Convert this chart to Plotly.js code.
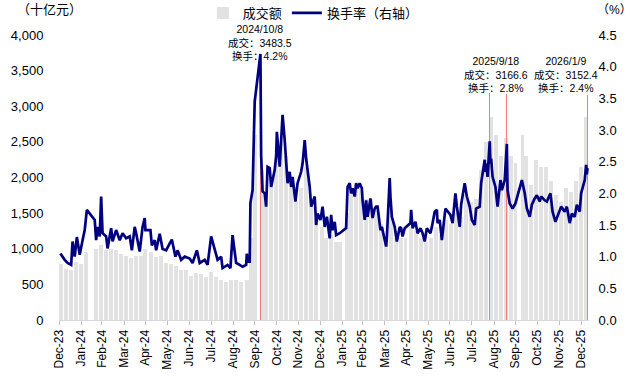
<!DOCTYPE html>
<html>
<head>
<meta charset="utf-8">
<script src="https://cdn.plot.ly/plotly-3.0.1.min.js"></script>
<style>html,body{margin:0;padding:0;background:#fff;}#chart{width:632px;height:382px;}</style>
</head>
<body>
<div id="chart"></div>
<script>
const lineDates = ['2024-01-02','2024-01-03','2024-01-08','2024-01-12','2024-01-17','2024-01-19','2024-01-22','2024-01-25','2024-01-29','2024-02-02','2024-02-05','2024-02-08','2024-02-19','2024-02-21','2024-02-23','2024-02-26','2024-02-28','2024-03-01','2024-03-06','2024-03-08','2024-03-13','2024-03-15','2024-03-20','2024-03-25','2024-03-29','2024-04-03','2024-04-08','2024-04-11','2024-04-15','2024-04-17','2024-04-22','2024-04-26','2024-04-29','2024-04-30','2024-05-07','2024-05-09','2024-05-13','2024-05-15','2024-05-20','2024-05-24','2024-05-29','2024-06-03','2024-06-06','2024-06-11','2024-06-14','2024-06-19','2024-06-24','2024-07-01','2024-07-05','2024-07-11','2024-07-15','2024-07-22','2024-07-26','2024-07-31','2024-08-05','2024-08-09','2024-08-14','2024-08-16','2024-08-23','2024-08-27','2024-08-30','2024-09-04','2024-09-09','2024-09-13','2024-09-18','2024-09-19','2024-09-20','2024-09-23','2024-09-24','2024-09-25','2024-09-26','2024-09-27','2024-09-30','2024-10-08','2024-10-09','2024-10-10','2024-10-11','2024-10-14','2024-10-16','2024-10-18','2024-10-21','2024-10-23','2024-10-28','2024-10-30','2024-10-31','2024-11-04','2024-11-08','2024-11-11','2024-11-15','2024-11-18','2024-11-20','2024-11-22','2024-11-26','2024-11-29','2024-12-04','2024-12-06','2024-12-09','2024-12-11','2024-12-16','2024-12-18','2024-12-23','2024-12-25','2024-12-27','2024-12-31','2025-01-03','2025-01-06','2025-01-09','2025-01-13','2025-01-15','2025-01-17','2025-01-20','2025-01-22','2025-01-27','2025-02-05','2025-02-07','2025-02-10','2025-02-12','2025-02-14','2025-02-17','2025-02-19','2025-02-21','2025-02-24','2025-02-27','2025-02-28','2025-03-03','2025-03-05','2025-03-07','2025-03-11','2025-03-14','2025-03-17','2025-03-19','2025-03-21','2025-03-25','2025-03-27','2025-04-02','2025-04-03','2025-04-07','2025-04-08','2025-04-10','2025-04-14','2025-04-17','2025-04-21','2025-04-23','2025-04-25','2025-04-28','2025-05-06','2025-05-07','2025-05-09','2025-05-13','2025-05-16','2025-05-20','2025-05-23','2025-05-26','2025-05-29','2025-06-03','2025-06-05','2025-06-09','2025-06-12','2025-06-13','2025-06-16','2025-06-19','2025-06-24','2025-06-27','2025-07-01','2025-07-04','2025-07-08','2025-07-10','2025-07-14','2025-07-16','2025-07-21','2025-07-24','2025-07-28','2025-07-31','2025-08-04','2025-08-06','2025-08-11','2025-08-13','2025-08-18','2025-08-19','2025-08-20','2025-08-22','2025-08-25','2025-08-26','2025-08-27','2025-08-29','2025-09-02','2025-09-05','2025-09-09','2025-09-11','2025-09-15','2025-09-18','2025-09-19','2025-09-22','2025-09-26','2025-09-30','2025-10-09','2025-10-13','2025-10-16','2025-10-20','2025-10-23','2025-10-27','2025-10-30','2025-11-03','2025-11-05','2025-11-10','2025-11-13','2025-11-18','2025-11-21','2025-11-25','2025-11-28','2025-12-03','2025-12-08','2025-12-11','2025-12-15','2025-12-18','2025-12-22','2025-12-25','2025-12-29','2025-12-31','2026-01-05','2026-01-06','2026-01-07','2026-01-08','2026-01-09'];
const turnover = [1.05,1.03,0.95,0.90,0.87,1.24,1.00,1.31,1.03,1.26,1.42,1.74,1.58,1.26,1.47,1.32,1.95,1.37,1.32,1.13,1.45,1.24,1.42,1.26,1.37,1.29,1.32,1.10,1.47,1.37,1.08,1.47,1.61,1.42,1.42,1.18,1.26,1.10,1.36,1.12,1.10,1.21,1.27,1.00,1.10,0.95,1.00,0.97,0.90,1.10,0.90,0.95,0.87,1.32,1.10,0.95,1.00,0.82,0.87,0.82,1.34,0.90,0.87,0.84,0.87,1.05,0.92,0.92,1.85,1.95,2.00,2.05,3.45,4.20,2.60,2.10,2.03,2.00,1.79,2.42,2.40,2.10,2.37,2.58,2.97,2.42,3.24,2.84,2.16,2.34,2.10,2.26,1.87,2.16,2.34,2.47,2.84,2.55,2.10,1.79,1.95,1.50,1.68,1.58,1.79,1.47,1.63,1.29,1.66,1.42,1.55,1.34,1.37,1.45,2.10,2.16,2.00,2.08,1.95,2.16,2.08,2.16,2.08,1.89,1.58,1.89,1.63,1.92,1.61,1.76,1.79,1.79,1.42,1.47,1.16,1.30,2.24,1.95,1.63,1.47,1.24,1.47,1.45,1.32,1.45,1.53,1.74,1.45,1.55,1.37,1.45,1.37,1.24,1.45,1.37,1.47,1.71,1.74,1.53,1.58,1.26,1.76,1.71,1.66,1.53,2.00,1.79,1.47,1.82,2.16,1.95,1.79,1.58,1.50,1.76,1.79,2.16,2.53,2.34,2.47,2.26,2.82,2.47,2.55,2.26,2.10,1.79,2.21,2.05,2.21,2.78,2.05,1.84,1.76,1.84,2.21,2.00,1.76,1.63,1.82,1.92,1.97,1.87,1.95,1.89,1.87,2.00,1.71,1.55,1.63,1.79,1.71,1.79,1.53,1.68,1.63,1.82,1.71,2.00,2.21,2.30,2.45,2.30,2.40];

const barDates = ['2024-01-03','2024-01-10','2024-01-17','2024-01-24','2024-01-31','2024-02-07','2024-02-21','2024-02-28','2024-03-06','2024-03-13','2024-03-20','2024-03-27','2024-04-03','2024-04-10','2024-04-17','2024-04-24','2024-04-29','2024-05-08','2024-05-15','2024-05-22','2024-05-29','2024-06-05','2024-06-12','2024-06-19','2024-06-26','2024-07-03','2024-07-10','2024-07-17','2024-07-24','2024-07-31','2024-08-07','2024-08-14','2024-08-21','2024-08-28','2024-09-04','2024-09-11','2024-09-19','2024-09-25','2024-09-30','2024-10-10','2024-10-16','2024-10-23','2024-10-30','2024-11-06','2024-11-13','2024-11-20','2024-11-27','2024-12-04','2024-12-11','2024-12-18','2024-12-25','2025-01-02','2025-01-08','2025-01-15','2025-01-22','2025-01-27','2025-02-06','2025-02-12','2025-02-19','2025-02-26','2025-03-05','2025-03-12','2025-03-19','2025-03-26','2025-04-02','2025-04-09','2025-04-16','2025-04-23','2025-04-29','2025-05-07','2025-05-14','2025-05-21','2025-05-28','2025-06-04','2025-06-11','2025-06-18','2025-06-25','2025-07-02','2025-07-09','2025-07-16','2025-07-23','2025-07-30','2025-08-06','2025-08-13','2025-08-20','2025-08-27','2025-09-03','2025-09-10','2025-09-17','2025-09-24','2025-09-30','2025-10-10','2025-10-15','2025-10-22','2025-10-29','2025-11-05','2025-11-12','2025-11-19','2025-11-26','2025-12-03','2025-12-10','2025-12-17','2025-12-24','2025-12-31','2026-01-07'];
const volume = [780,720,700,820,780, 950,1000,1050, 980,1000,980,930, 900,870,900,900,1000, 950,880,900,800, 780,760,700,700, 620,660,640,600,680, 600,560,540,560, 560,540,560,1150,2590, 2100,1650,1900,2300, 2500,2300,1850,1650, 1850,2150,1600,1400, 1300,1150,1200,1100,1100, 1500,1800,1900,1850, 1700,1700,1600,1350, 1050,1550,1150,1150,1150, 1300,1250,1150,1100, 1150,1300,1200,1400, 1350,1500,1450,1750,1650, 1700,2100,2500,2850, 2600,2300,2550,2300,2200, 2600,2300,1900,2250, 2150,2150,1950,1750, 1650,1850,1800,1950,2150, 2850];

const hlDates = ['2024-10-08','2025-08-25','2025-09-18','2026-01-09'];
const hlVolume = [3483.5,3180,3166.6,3152.4];

const annDates = ['2024-10-08','2025-09-18','2026-01-09'];
const annLabels = ['2024/10/8','2025/9/18','2026/1/9'];
const annVolume = [3483.5,3166.6,3152.4];
const annRate = [4.2,2.8,2.4];

const tickDates = ['2023-12-31','2024-01-31','2024-02-29','2024-03-31','2024-04-30','2024-05-31','2024-06-30','2024-07-31','2024-08-31','2024-09-30','2024-10-31','2024-11-30','2024-12-31','2025-01-31','2025-02-28','2025-03-31','2025-04-30','2025-05-31','2025-06-30','2025-07-31','2025-08-31','2025-09-30','2025-10-31','2025-11-30','2025-12-31'];
const tickLabels = ['Dec-23','Jan-24','Feb-24','Mar-24','Apr-24','May-24','Jun-24','Jul-24','Aug-24','Sep-24','Oct-24','Nov-24','Dec-24','Jan-25','Feb-25','Mar-25','Apr-25','May-25','Jun-25','Jul-25','Aug-25','Sep-25','Oct-25','Nov-25','Dec-25'];

const FONT = 'Arial, "Liberation Sans", "Noto Sans CJK SC", sans-serif';
const DAY = 86400000;

const traces = [
  {type:'bar', name:'成交额', x:barDates, y:volume, width:barDates.map(()=>5*DAY),
   marker:{color:'#e2e2e2', line:{width:0}}, yaxis:'y', hoverinfo:'skip'},
  {type:'bar', name:'成交额', x:hlDates, y:hlVolume, width:hlDates.map(()=>1.4*DAY),
   marker:{color:'#f27b7b', line:{width:0}}, yaxis:'y', showlegend:false, hoverinfo:'skip'},
  {type:'scatter', mode:'lines', name:'换手率（右轴）', x:lineDates, y:turnover,
   line:{color:'#000080', width:2.7}, yaxis:'y2'}
];

const annShift = [0,-11,-22];
const annY = [0.975,0.861,0.861];
const annotations = annDates.map((d,i)=>({
  xref:'x', yref:'paper', x:d, y:annY[i], xshift:annShift[i], yanchor:'middle',
  showarrow:false, align:'center',
  text: annLabels[i] + '<br>成交：' + annVolume[i].toFixed(1) + '<br>换手：' + annRate[i].toFixed(1) + '%',
  font:{family:FONT, size:10.5, color:'#000'}
}));
annotations.push({xref:'paper', yref:'paper', x:-0.083, y:1.088, xanchor:'left', yanchor:'middle', showarrow:false,
  text:'（十亿元）', font:{family:FONT, size:13, color:'#000'}});
annotations.push({xref:'paper', yref:'paper', x:1.0, y:1.088, xanchor:'left', xshift:6, yanchor:'middle', showarrow:false,
  text:'（%）', font:{family:FONT, size:12, color:'#000'}});

const layout = {
  width:632, height:382,
  margin:{l:59, r:43, t:35, b:62, pad:0},
  paper_bgcolor:'#fff', plot_bgcolor:'#fff',
  font:{family:FONT, size:13, color:'#000'},
  barmode:'overlay', bargap:0,
  showlegend:true,
  legend:{orientation:'h', xref:'container', yref:'container', x:0.321, xanchor:'left', y:0.966, yanchor:'middle',
          font:{family:FONT, size:13, color:'#000'}, bgcolor:'rgba(0,0,0,0)', itemwidth:30, tracegroupgap:0},
  xaxis:{type:'date', range:['2023-12-31','2026-01-11'], tickmode:'array', tickvals:tickDates, ticktext:tickLabels,
         tickangle:-90, ticks:'outside', ticklen:4, tickcolor:'#bfbfbf', showline:true, linecolor:'#d9d9d9', linewidth:1,
         showgrid:false, zeroline:false, automargin:false, tickfont:{family:FONT, size:12, color:'#000'}},
  yaxis:{range:[0,4000], dtick:500, tick0:0, tickformat:',d', showgrid:false, zeroline:false, showline:false, automargin:false,
         ticks:'outside', ticklen:12, tickcolor:'rgba(0,0,0,0)', tickfont:{family:FONT, size:13, color:'#000'}},
  yaxis2:{range:[0,4.5], dtick:0.5, tick0:0, tickformat:'.1f', overlaying:'y', side:'right', showgrid:false, automargin:false,
          zeroline:false, showline:false, ticks:'outside', ticklen:6, tickcolor:'rgba(0,0,0,0)',
          tickfont:{family:FONT, size:13, color:'#000'}},
  annotations:annotations
};

Plotly.newPlot('chart', traces, layout, {staticPlot:true, displayModeBar:false});
</script>
</body>
</html>
